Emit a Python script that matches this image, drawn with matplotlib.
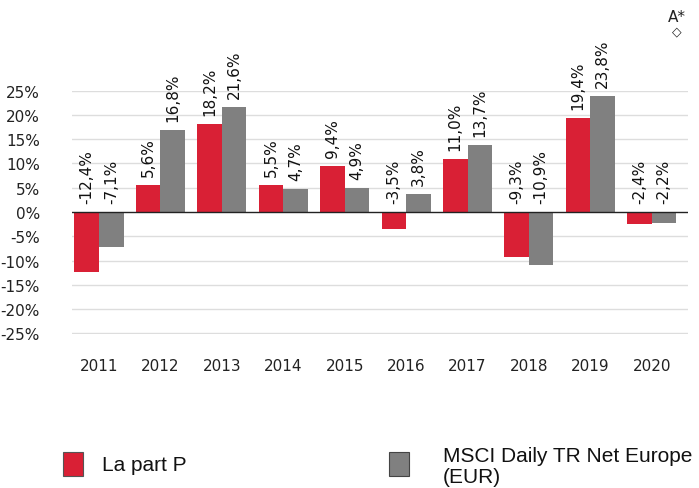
import matplotlib
matplotlib.use("Agg")
import matplotlib.pyplot as plt
import numpy as np
from matplotlib.patches import Rectangle

years = ["2011", "2012", "2013", "2014", "2015", "2016", "2017", "2018", "2019", "2020"]
fund = [-12.4, 5.6, 18.2, 5.5, 9.4, -3.5, 11.0, -9.3, 19.4, -2.4]
index = [-7.1, 16.8, 21.6, 4.7, 4.9, 3.8, 13.7, -10.9, 23.8, -2.2]
series_names = ["La part P", "MSCI Daily TR Net Europe\n(EUR)"]
yticks = [25, 20, 15, 10, 5, 0, -5, -10, -15, -20, -25]

RED = "#D92035"
GRAY = "#808080"

W, H = 699, 489
fig = plt.figure(figsize=(W / 100, H / 100), dpi=100)
ax = fig.add_axes([72 / W, 154.5 / H, (688 - 72) / W, 243 / H])

x = np.arange(len(years))
bw = 0.4
ax.bar(x - bw / 2, fund, width=bw, color=RED, zorder=3)
ax.bar(x + bw / 2, index, width=bw, color=GRAY, zorder=3)

ax.set_xlim(-0.44, 9.59)
ax.set_ylim(-25, 25)
ax.set_yticks(yticks)
ax.set_yticklabels([f"{v}%" for v in yticks])
ax.set_xticks(x)
ax.set_xticklabels(years)
ax.tick_params(axis="both", length=0, labelsize=11, colors="#222222")
ax.tick_params(axis="y", pad=23)
ax.tick_params(axis="x", pad=18)
for v in yticks:
    if v != 0:
        ax.axhline(v, color="#DDDDDD", lw=1, zorder=1)
ax.axhline(0, color="#222222", lw=1, zorder=4)
for s in ax.spines.values():
    s.set_visible(False)

def fmt(v):
    return f"{v:.1f}%".replace(".", ",")

for xs, vals in ((x - bw / 2, fund), (x + bw / 2, index)):
    for xi, v in zip(xs, vals):
        base = max(v, 0)
        ax.annotate(fmt(v), (xi, base), xytext=(0, 6.5), textcoords="offset points",
                    rotation=90, ha="center", va="bottom", fontsize=11,
                    color="#111111", annotation_clip=False)

# legend
lf = "Liberation Sans"
fig.patches.append(Rectangle((63 / W, (H - 477) / H), 20 / W, 24 / H,
                             transform=fig.transFigure, facecolor=RED,
                             edgecolor="#555555", lw=0.8))
fig.text(102 / W, (H - 466) / H, series_names[0], fontsize=15, family=lf,
         va="center", ha="left", color="#111111")
fig.patches.append(Rectangle((389 / W, (H - 477) / H), 20 / W, 24 / H,
                             transform=fig.transFigure, facecolor=GRAY,
                             edgecolor="#444444", lw=0.8))
fig.text(443 / W, (H - 467) / H, series_names[1], fontsize=15, family=lf,
         va="center", ha="left", color="#111111", linespacing=1.15)

fig.text(677 / W, (H - 18) / H, "A*", fontsize=11, ha="center", va="center", color="#222222")
fig.text(677 / W, (H - 32) / H, "◇", fontsize=9, ha="center", va="center", color="#222222")

fig.savefig("out.png", dpi=100)
